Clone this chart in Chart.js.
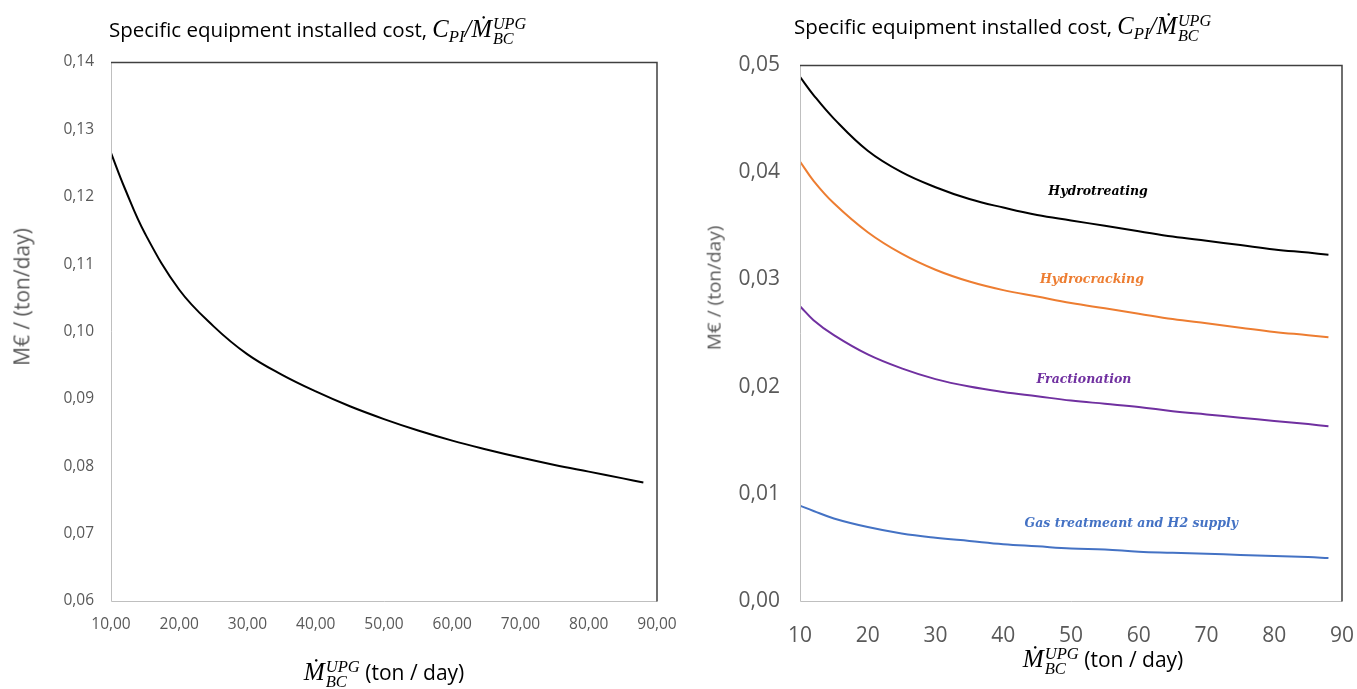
<!DOCTYPE html>
<html lang="en">
  <head>
    <meta charset="UTF-8" />
    <title>Specific equipment installed cost</title>
    <script src="https://cdn.jsdelivr.net/npm/chart.js"></script>
    <style>
      body { margin: 0; background: #fff; width: 1357px; height: 689px; position: relative; overflow: hidden; font-family: "Liberation Sans Narrow", "Open Sans", "Liberation Sans", sans-serif; }
      canvas { position: absolute; top: 0; }
      #leftChart { left: 0; }
      #rightChart { left: 690px; }
      .txt { position: absolute; white-space: nowrap; line-height: 1.2; }
      .title { font-size: 20.5px; color: #000; }
      .ytitle { color: #595959; transform: translate(-50%, -50%) rotate(-90deg); }
      .xtitle { font-size: 21px; color: #000; transform: translate(-50%, -50%); }
      .m { font-family: "Liberation Serif", "DejaVu Serif", serif; font-style: italic; font-size: 1.2em; }
      .sub { font-size: 0.68em; vertical-align: -0.3em; }
      .ss { display: inline-flex; flex-direction: column; font-size: 0.66em; line-height: 0.9em; vertical-align: 0.5em; margin-left: 1px; }
    </style>
  </head>
  <body>
    <canvas id="leftChart" width="690" height="689"></canvas>
    <canvas id="rightChart" width="667" height="689"></canvas>

    <!-- Titel und Achsentitel als HTML, wegen Indizes -->
    <div class="txt title" style="left:109px; top:14px;">Specific equipment installed cost, <span class="m">C<span class="sub">PI</span>/Ṁ<span class="ss"><span>UPG</span><span>BC</span></span></span></div>
    <div class="txt title" style="left:794px; top:11px;">Specific equipment installed cost, <span class="m">C<span class="sub">PI</span>/Ṁ<span class="ss"><span>UPG</span><span>BC</span></span></span></div>
    <div class="txt ytitle" style="left:22px; top:297px; font-size:21px;">M€ / (ton/day)</div>
    <div class="txt ytitle" style="left:714px; top:288px; font-size:19px;">M€ / (ton/day)</div>
    <div class="txt xtitle" style="left:384px; top:673px;"><span class="m">Ṁ<span class="ss"><span>UPG</span><span>BC</span></span></span> (ton / day)</div>
    <div class="txt xtitle" style="left:1103px; top:660px;"><span class="m">Ṁ<span class="ss"><span>UPG</span><span>BC</span></span></span> (ton / day)</div>

    <script>
      // Durchsatz (ton/day)
      const massFlow = [10, 12, 15, 20, 25, 30, 35, 40, 45, 50, 55, 60, 65, 70, 75, 80, 85, 88];

      // linker Graph: gesamte Anlage
      const totalCost = [0.1265, 0.1213, 0.1145, 0.1062, 0.1008, 0.0966, 0.0936, 0.0911, 0.0889, 0.0870, 0.0853, 0.0838, 0.0825, 0.0813, 0.0802, 0.0792, 0.0782, 0.0776];

      // rechter Graph: einzelne Einheiten
      const hydrotreating = [0.0489, 0.0472, 0.0450, 0.0420, 0.0400, 0.0386, 0.0375, 0.0367, 0.0360, 0.0355, 0.0350, 0.0345, 0.0340, 0.0336, 0.0332, 0.0328, 0.0325, 0.0323];
      const hydrocracking = [0.0410, 0.0392, 0.0371, 0.0344, 0.0324, 0.0309, 0.0298, 0.0290, 0.0284, 0.0278, 0.0273, 0.0268, 0.0263, 0.0259, 0.0255, 0.0251, 0.0248, 0.0246];
      const fractionation = [0.0275, 0.0262, 0.0248, 0.0230, 0.0217, 0.0207, 0.0200, 0.0195, 0.0191, 0.0187, 0.0184, 0.0181, 0.0177, 0.0174, 0.0171, 0.0168, 0.0165, 0.0163];
      const gasTreatment = [0.0089, 0.0084, 0.0077, 0.0069, 0.0063, 0.0059, 0.0056, 0.0053, 0.0051, 0.0049, 0.0048, 0.0046, 0.0045, 0.0044, 0.0043, 0.0042, 0.0041, 0.0040];

      // Beschriftungen im rechten Graph (Datenkoordinaten)
      const curveLabels = ["Hydrotreating", "Hydrocracking", "Fractionation", "Gas treatmeant and H2 supply"];
      const labelX = [54.0, 53.1, 51.9, 58.9];
      const labelY = [0.0382, 0.0300, 0.0206, 0.0072];
      const curveColors = ["#000000", "#ED7D31", "#7030A0", "#4472C4"];

      const toPoints = (ys) => massFlow.map((x, i) => ({ x: x, y: ys[i] }));
      const comma = (v, d) => Number(v).toFixed(d).replace(".", ",");

      // Rahmen wie in Excel: links/unten grau, oben/rechts dunkel
      const framePlugin = {
        id: "frame",
        afterDatasetsDraw(chart) {
          const a = chart.chartArea;
          const ctx = chart.ctx;
          ctx.save();
          ctx.lineWidth = 1;
          ctx.strokeStyle = "#bfbfbf";
          ctx.beginPath();
          ctx.moveTo(a.left + 0.5, a.top);
          ctx.lineTo(a.left + 0.5, a.bottom + 0.5);
          ctx.lineTo(a.right, a.bottom + 0.5);
          ctx.stroke();
          ctx.lineWidth = 1.5;
          ctx.strokeStyle = "#404040";
          ctx.beginPath();
          ctx.moveTo(a.left, a.top + 0.5);
          ctx.lineTo(a.right, a.top + 0.5);
          ctx.lineTo(a.right, a.bottom + 0.5);
          ctx.stroke();
          ctx.restore();
        },
      };

      const labelPlugin = {
        id: "curveLabels",
        afterDatasetsDraw(chart) {
          const ctx = chart.ctx;
          ctx.save();
          ctx.font = "italic bold 12.5px 'DejaVu Serif', 'Liberation Serif', serif";
          ctx.textAlign = "center";
          ctx.textBaseline = "middle";
          curveLabels.forEach((t, i) => {
            ctx.fillStyle = curveColors[i];
            ctx.fillText(t, chart.scales.x.getPixelForValue(labelX[i]), chart.scales.y.getPixelForValue(labelY[i]));
          });
          ctx.restore();
        },
      };

      const tickFont = "'Liberation Sans Narrow', 'Open Sans', 'Liberation Sans', sans-serif";

      // x-Achse: feste Höhe, kein Zusatzrand für das letzte Label
      const fitX = (s) => { s.height = 88; s.paddingLeft = 0; s.paddingRight = 0; };

      // Konfiguration linker Graph
      new Chart(document.getElementById("leftChart"), {
        type: "scatter",
        data: {
          datasets: [
            { data: toPoints(totalCost), showLine: true, borderColor: "#000", borderWidth: 2, pointRadius: 0, tension: 0.4 },
          ],
        },
        options: {
          responsive: false,
          animation: false,
          devicePixelRatio: 1,
          layout: { padding: { top: 62, right: 33, left: 0, bottom: 0 } },
          plugins: { legend: { display: false }, tooltip: { enabled: false } },
          scales: {
            x: {
              type: "linear", min: 10, max: 90,
              grid: { display: false, drawTicks: false }, border: { display: false },
              ticks: { stepSize: 10, padding: 14, color: "#595959", font: { family: tickFont, size: 15.5 }, callback: (v) => comma(v, 2) },
              afterFit: fitX,
            },
            y: {
              min: 0.06, max: 0.14,
              grid: { display: false, drawTicks: false }, border: { display: false },
              ticks: { stepSize: 0.01, padding: 17, color: "#595959", font: { family: tickFont, size: 15.5 }, callback: (v) => comma(v, 2) },
              afterFit: (s) => { s.width = 111; },
            },
          },
        },
        plugins: [framePlugin],
      });

      // Konfiguration rechter Graph
      const unitSeries = [hydrotreating, hydrocracking, fractionation, gasTreatment];
      new Chart(document.getElementById("rightChart"), {
        type: "scatter",
        data: {
          datasets: unitSeries.map((s, i) => ({
            label: curveLabels[i], data: toPoints(s), showLine: true,
            borderColor: curveColors[i], borderWidth: 2, pointRadius: 0, tension: 0.4,
          })),
        },
        options: {
          responsive: false,
          animation: false,
          devicePixelRatio: 1,
          layout: { padding: { top: 65, right: 15, left: 0, bottom: 0 } },
          plugins: { legend: { display: false }, tooltip: { enabled: false } },
          scales: {
            x: {
              type: "linear", min: 10, max: 90,
              grid: { display: false, drawTicks: false }, border: { display: false },
              ticks: { stepSize: 10, padding: 22, color: "#595959", font: { family: tickFont, size: 21 }, callback: (v) => comma(v, 0) },
              afterFit: fitX,
            },
            y: {
              min: 0, max: 0.05,
              grid: { display: false, drawTicks: false }, border: { display: false },
              ticks: { stepSize: 0.01, padding: 20, color: "#595959", font: { family: tickFont, size: 21 }, callback: (v) => comma(v, 2) },
              afterFit: (s) => { s.width = 110; },
            },
          },
        },
        plugins: [framePlugin, labelPlugin],
      });
    </script>
  </body>
</html>
